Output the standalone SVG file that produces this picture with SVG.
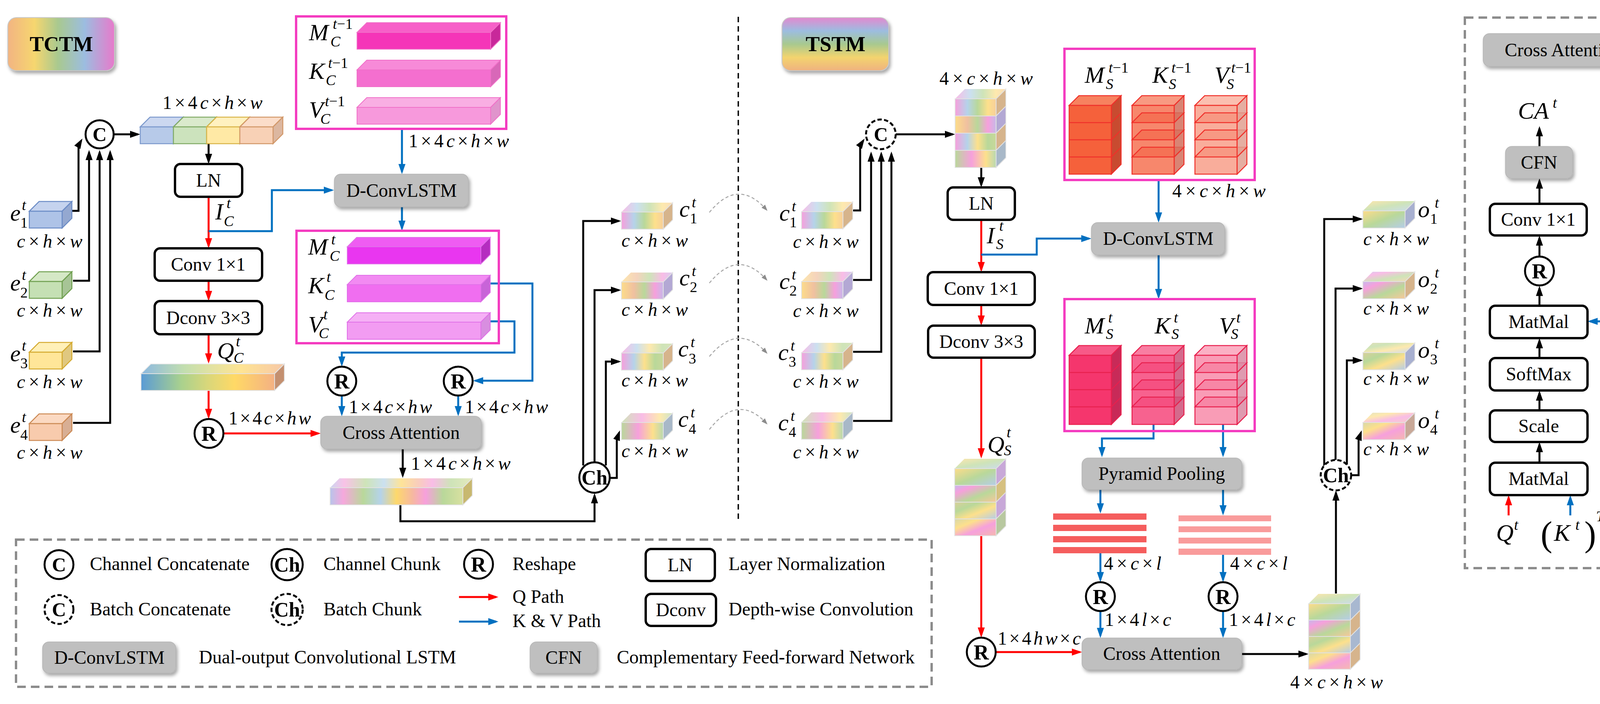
<svg xmlns="http://www.w3.org/2000/svg" width="4277" height="1803" viewBox="0 0 4277 1803">
<style>
text{font-family:"Liberation Serif","Times New Roman",serif;fill:#000}
.t{font-size:48px}
.tb{font-size:54px;font-weight:bold}
.ct{text-anchor:middle}
.v{font-size:60px;font-style:italic}
.s{font-size:38px;font-style:italic}
.su{font-size:38px}
.m{font-size:48px}
.i{font-style:italic}
.k{fill:none;stroke:#000;stroke-width:5}
.r{fill:none;stroke:#f00;stroke-width:5}
.b{fill:none;stroke:#0070c0;stroke-width:5}
.wb{fill:#fff;stroke:#000;stroke-width:6}
.gb{fill:#bfbfbf;stroke:#b3b3b3;stroke-width:1.5}
.cir{fill:#fff;stroke:#000;stroke-width:5}
.dc{fill:#fff;stroke:#000;stroke-width:5;stroke-dasharray:11 6}
.pf{fill:none;stroke:#f43cc0;stroke-width:6}
.cu{stroke:#e2e2e2;stroke-width:2}
.gd{fill:none;stroke:#8c8c8c;stroke-width:6;stroke-dasharray:22 13}
.cv{fill:none;stroke:#a6a6a6;stroke-width:2.5;stroke-dasharray:8 6}
.tp{opacity:.7}
</style>
<defs>
<filter id="sh" x="-10%" y="-15%" width="125%" height="150%"><feDropShadow dx="4" dy="6" stdDeviation="4" flood-color="#000" flood-opacity="0.35"/></filter>
<marker id="ak" viewBox="0 0 26 18" markerWidth="26" markerHeight="18" refX="20" refY="9" orient="auto" markerUnits="userSpaceOnUse"><path d="M0,0 L26,9 L0,18 z" fill="#000"/></marker>
<marker id="ar" viewBox="0 0 26 18" markerWidth="26" markerHeight="18" refX="20" refY="9" orient="auto" markerUnits="userSpaceOnUse"><path d="M0,0 L26,9 L0,18 z" fill="#f00"/></marker>
<marker id="ab" viewBox="0 0 26 18" markerWidth="26" markerHeight="18" refX="20" refY="9" orient="auto" markerUnits="userSpaceOnUse"><path d="M0,0 L26,9 L0,18 z" fill="#0070c0"/></marker>
<marker id="ag" viewBox="0 0 16 12" markerWidth="16" markerHeight="12" refX="12" refY="6" orient="auto" markerUnits="userSpaceOnUse"><path d="M0,0 L16,6 L0,12 z" fill="#8c8c8c"/></marker>
<linearGradient id="tctm" x1="0" y1="0" x2="1" y2="0"><stop offset="0" stop-color="#f2b482"/><stop offset=".25" stop-color="#f6d66f"/><stop offset=".47" stop-color="#a9c98f"/><stop offset=".72" stop-color="#9cbde0"/><stop offset="1" stop-color="#e77acb"/></linearGradient>
<linearGradient id="tstm" x1="0" y1="0" x2="0" y2="1"><stop offset="0" stop-color="#e389cf"/><stop offset=".25" stop-color="#9cbde0"/><stop offset=".5" stop-color="#a8c98f"/><stop offset=".75" stop-color="#f3d46e"/><stop offset="1" stop-color="#efb27f"/></linearGradient>
<linearGradient id="qbar" x1="0" y1="0" x2="1" y2="0"><stop offset="0" stop-color="#5b9bd5"/><stop offset=".3" stop-color="#a9d18e"/><stop offset=".5" stop-color="#d9d77a"/><stop offset=".7" stop-color="#ffd966"/><stop offset="1" stop-color="#f4b183"/></linearGradient>
<linearGradient id="gA"><stop offset="0" stop-color="#f6a0dc"/><stop offset=".3" stop-color="#b5d3ea"/><stop offset=".55" stop-color="#b9d89a"/><stop offset=".8" stop-color="#fde08c"/><stop offset="1" stop-color="#f7cf9a"/></linearGradient>
<linearGradient id="gB"><stop offset="0" stop-color="#fcdc8a"/><stop offset=".3" stop-color="#f0c0a0"/><stop offset=".55" stop-color="#b9d89a"/><stop offset=".8" stop-color="#f6a0dc"/><stop offset="1" stop-color="#c8b8e8"/></linearGradient>
<linearGradient id="gC"><stop offset="0" stop-color="#f6a0dc"/><stop offset=".3" stop-color="#b5d3ea"/><stop offset=".55" stop-color="#fde08c"/><stop offset=".8" stop-color="#b9d89a"/><stop offset="1" stop-color="#c8d89a"/></linearGradient>
<linearGradient id="gD"><stop offset="0" stop-color="#b9d89a"/><stop offset=".4" stop-color="#f6a0dc"/><stop offset=".75" stop-color="#fde08c"/><stop offset="1" stop-color="#b9d8b0"/></linearGradient>
<linearGradient id="gE"><stop offset="0" stop-color="#b8c4ea"/><stop offset=".1" stop-color="#f6a8dc"/><stop offset=".25" stop-color="#b9d89a"/><stop offset=".38" stop-color="#b5d3ea"/><stop offset=".5" stop-color="#fdd86c"/><stop offset=".62" stop-color="#f6b8a0"/><stop offset=".72" stop-color="#f6a0dc"/><stop offset=".85" stop-color="#b9d89a"/><stop offset="1" stop-color="#d8e0a0"/></linearGradient>
<linearGradient id="gF" x1="0" y1="0" x2="1" y2="1"><stop offset="0" stop-color="#fddc8a"/><stop offset=".5" stop-color="#b9d89a"/><stop offset="1" stop-color="#b5cde8"/></linearGradient>
<linearGradient id="gG" x1="0" y1="0" x2="1" y2="1"><stop offset="0" stop-color="#c8b8ea"/><stop offset=".25" stop-color="#f6a0dc"/><stop offset=".6" stop-color="#b9d89a"/><stop offset="1" stop-color="#f7c89a"/></linearGradient>
<linearGradient id="gH" x1="0" y1="0" x2="1" y2="1"><stop offset="0" stop-color="#d8d09a"/><stop offset=".3" stop-color="#b9d89a"/><stop offset=".6" stop-color="#fde08c"/><stop offset="1" stop-color="#b5cde8"/></linearGradient>
<linearGradient id="gI" x1="0" y1="0" x2="1" y2="1"><stop offset="0" stop-color="#d8d8a8"/><stop offset=".3" stop-color="#fde08c"/><stop offset=".6" stop-color="#f6a0dc"/><stop offset="1" stop-color="#f5b8b0"/></linearGradient>
</defs>
<rect x="0" y="0" width="4277" height="1803" fill="#fff"/>

<!-- divider -->
<line x1="1890" y1="43" x2="1890" y2="1337" stroke="#000" stroke-width="3.5" stroke-dasharray="14 10"/>

<g id="tctm-title">
<rect x="20" y="45" width="273" height="136" rx="22" fill="url(#tctm)" stroke="#c8c8c8" stroke-width="2" filter="url(#sh)"/>
<text class="tb ct" x="157" y="131">TCTM</text>
</g>
<g id="tstm-title">
<rect x="2002" y="45" width="273" height="136" rx="22" fill="url(#tstm)" stroke="#c8c8c8" stroke-width="2" filter="url(#sh)"/>
<text class="tb ct" x="2139" y="131">TSTM</text>
</g>

<!-- ================= connectors ================= -->
<g id="connectors">
<path class="k" d="M184,540 H201 V372 L208,360" marker-end="url(#ak)"/>
<path class="k" d="M187,719 H228 V390" marker-end="url(#ak)"/>
<path class="k" d="M187,900 H255 V390" marker-end="url(#ak)"/>
<path class="k" d="M187,1083 H282 V390" marker-end="url(#ak)"/>
<path class="k" d="M291,344 H353" marker-end="url(#ak)"/>
<path class="k" d="M534,368 V414" marker-end="url(#ak)"/>
<path class="r" d="M534,504 V630" marker-end="url(#ar)"/>
<path class="b" d="M534,592 H696 V487 H849" marker-end="url(#ab)"/>
<path class="r" d="M534,719 V765" marker-end="url(#ar)"/>
<path class="r" d="M534,856 V925" marker-end="url(#ar)"/>
<path class="r" d="M534,1000 V1067" marker-end="url(#ar)"/>
<path class="r" d="M572,1110 H815" marker-end="url(#ar)"/>
<path class="b" d="M1029,330 V440" marker-end="url(#ab)"/>
<path class="b" d="M1029,530 V585" marker-end="url(#ab)"/>
<path class="b" d="M1255,726 H1363 V975 H1217" marker-end="url(#ab)"/>
<path class="b" d="M1255,823 H1317 V903 H875 V933" marker-end="url(#ab)"/>
<path class="b" d="M875,1014 V1060" marker-end="url(#ab)"/>
<path class="b" d="M1173,1014 V1060" marker-end="url(#ab)"/>
<path class="k" d="M1031,1150 V1218" marker-end="url(#ak)"/>
<path class="k" d="M1025,1293 V1335 H1522 V1269" marker-end="url(#ak)"/>
<path class="k" d="M1493,1192 V566 H1584" marker-end="url(#ak)"/>
<path class="k" d="M1522,1183 V743 H1584" marker-end="url(#ak)"/>
<path class="k" d="M1551,1192 V926 H1584" marker-end="url(#ak)"/>
<path class="k" d="M1561,1224 H1579 V1125 L1585,1108" marker-end="url(#ak)"/>
<path class="cv" d="M1816,544 Q1889,454 1962,537" marker-end="url(#ag)"/>
<path class="cv" d="M1816,725 Q1889,635 1962,716" marker-end="url(#ag)"/>
<path class="cv" d="M1816,913 Q1889,825 1962,903" marker-end="url(#ag)"/>
<path class="cv" d="M1816,1100 Q1889,1006 1962,1084" marker-end="url(#ag)"/>
<path class="k" d="M2183,539 H2202 V372 L2210,360" marker-end="url(#ak)"/>
<path class="k" d="M2184,717 H2230 V394" marker-end="url(#ak)"/>
<path class="k" d="M2184,901 H2256 V394" marker-end="url(#ak)"/>
<path class="k" d="M2184,1078 H2282 V394" marker-end="url(#ak)"/>
<path class="k" d="M2293,344 H2439" marker-end="url(#ak)"/>
<path class="k" d="M2512,429 V474" marker-end="url(#ak)"/>
<path class="r" d="M2512,563 V691" marker-end="url(#ar)"/>
<path class="b" d="M2512,652 H2654 V611 H2788" marker-end="url(#ab)"/>
<path class="r" d="M2512,781 V828" marker-end="url(#ar)"/>
<path class="r" d="M2512,916 V1168" marker-end="url(#ar)"/>
<path class="r" d="M2512,1373 V1627" marker-end="url(#ar)"/>
<path class="r" d="M2549,1670 H2764" marker-end="url(#ar)"/>
<path class="b" d="M2966,461 V564" marker-end="url(#ab)"/>
<path class="b" d="M2966,653 V760" marker-end="url(#ab)"/>
<path class="b" d="M2953,1087 V1123 H2821 V1165" marker-end="url(#ab)"/>
<path class="b" d="M3131,1087 V1165" marker-end="url(#ab)"/>
<path class="b" d="M2817,1254 V1309" marker-end="url(#ab)"/>
<path class="b" d="M3131,1254 V1314" marker-end="url(#ab)"/>
<path class="b" d="M2817,1417 V1485" marker-end="url(#ab)"/>
<path class="b" d="M3131,1421 V1485" marker-end="url(#ab)"/>
<path class="b" d="M2817,1565 V1628" marker-end="url(#ab)"/>
<path class="b" d="M3131,1565 V1628" marker-end="url(#ab)"/>
<path class="k" d="M3179,1675 H3344" marker-end="url(#ak)"/>
<path class="k" d="M3420,1520 V1262" marker-end="url(#ak)"/>
<path class="k" d="M3390,1193 V561 H3483" marker-end="url(#ak)"/>
<path class="k" d="M3419,1178 V739 H3483" marker-end="url(#ak)"/>
<path class="k" d="M3448,1190 V923 H3483" marker-end="url(#ak)"/>
<path class="k" d="M3459,1217 H3478 V1125 L3484,1108" marker-end="url(#ak)"/>
<!-- right panel -->
<path class="k" d="M3941,375 V329" marker-end="url(#ak)"/>
<path class="k" d="M3941,522 V463" marker-end="url(#ak)"/>
<path class="k" d="M3941,656 V609" marker-end="url(#ak)"/>
<path class="k" d="M3941,783 V738" marker-end="url(#ak)"/>
<path class="k" d="M3941,917 V872" marker-end="url(#ak)"/>
<path class="k" d="M3941,1051 V1006" marker-end="url(#ak)"/>
<path class="k" d="M3941,1185 V1138" marker-end="url(#ak)"/>
<path class="r" d="M3862,1320 V1274" marker-end="url(#ar)"/>
<path class="b" d="M4020,1320 V1274" marker-end="url(#ab)"/>
<path class="b" d="M4192,1316 V823 H4070" marker-end="url(#ab)"/>
</g>

<!-- ================= TCTM nodes ================= -->
<g id="e1">
<polygon points="75,541 100,516 184,516 159,541" fill="#c5d3ee" stroke="#6b8cc6" stroke-width="2.5"/>
<polygon points="159,541 184,516 184,559 159,584" fill="#94a8d0" stroke="#6b8cc6" stroke-width="2.5"/>
<rect x="75" y="541" width="84" height="43" fill="#aec3e7" stroke="#6b8cc6" stroke-width="2.5"/>
<text class="v" x="26" y="565">e</text><text class="s" x="56" y="538">t</text><text class="su" x="52" y="583">1</text>
<text class="m" x="43" y="634" textLength="168" lengthAdjust="spacing"><tspan class="i">c</tspan>×<tspan class="i">h</tspan>×<tspan class="i">w</tspan></text>
</g>
<g id="e2">
<polygon points="75,721 100,696 184,696 159,721" fill="#d5e8c6" stroke="#70a050" stroke-width="2.5"/>
<polygon points="159,721 184,696 184,739 159,764" fill="#a7c496" stroke="#70a050" stroke-width="2.5"/>
<rect x="75" y="721" width="84" height="43" fill="#c5e0b4" stroke="#70a050" stroke-width="2.5"/>
<text class="v" x="26" y="744">e</text><text class="s" x="56" y="717">t</text><text class="su" x="52" y="762">2</text>
<text class="m" x="43" y="811" textLength="168" lengthAdjust="spacing"><tspan class="i">c</tspan>×<tspan class="i">h</tspan>×<tspan class="i">w</tspan></text>
</g>
<g id="e3">
<polygon points="75,902 100,877 184,877 159,902" fill="#fff0b8" stroke="#d4aa30" stroke-width="2.5"/>
<polygon points="159,902 184,877 184,920 159,945" fill="#e0c880" stroke="#d4aa30" stroke-width="2.5"/>
<rect x="75" y="902" width="84" height="43" fill="#ffe699" stroke="#d4aa30" stroke-width="2.5"/>
<text class="v" x="26" y="925">e</text><text class="s" x="56" y="898">t</text><text class="su" x="52" y="943">3</text>
<text class="m" x="43" y="994" textLength="168" lengthAdjust="spacing"><tspan class="i">c</tspan>×<tspan class="i">h</tspan>×<tspan class="i">w</tspan></text>
</g>
<g id="e4">
<polygon points="75,1085 100,1060 184,1060 159,1085" fill="#fbd9c2" stroke="#cc8a55" stroke-width="2.5"/>
<polygon points="159,1085 184,1060 184,1103 159,1128" fill="#d8ae94" stroke="#cc8a55" stroke-width="2.5"/>
<rect x="75" y="1085" width="84" height="43" fill="#f8cbad" stroke="#cc8a55" stroke-width="2.5"/>
<text class="v" x="26" y="1108">e</text><text class="s" x="56" y="1081">t</text><text class="su" x="52" y="1126">4</text>
<text class="m" x="43" y="1175" textLength="168" lengthAdjust="spacing"><tspan class="i">c</tspan>×<tspan class="i">h</tspan>×<tspan class="i">w</tspan></text>
</g>
<g id="concat-c">
<circle class="cir" cx="255" cy="344" r="36"/>
<text class="ct" x="255" y="361" style="font-size:50px;font-weight:bold">C</text>
</g>
<g id="ebar">
<g opacity=".88">
<polygon points="359,325 384,300 469,300 444,325" fill="#c5d3ee" stroke="#6b8cc6" stroke-width="2.5"/>
<polygon points="444,325 469,300 469,343 444,368" fill="#94a8d0" stroke="#6b8cc6" stroke-width="2.5"/>
<rect x="359" y="325" width="85" height="43" fill="#aec3e7" stroke="#6b8cc6" stroke-width="2.5"/>
<polygon points="444,325 469,300 554,300 529,325" fill="#d5e8c6" stroke="#70a050" stroke-width="2.5"/>
<polygon points="529,325 554,300 554,343 529,368" fill="#a7c496" stroke="#70a050" stroke-width="2.5"/>
<rect x="444" y="325" width="85" height="43" fill="#c5e0b4" stroke="#70a050" stroke-width="2.5"/>
<polygon points="529,325 554,300 639,300 614,325" fill="#fff0b8" stroke="#d4aa30" stroke-width="2.5"/>
<polygon points="614,325 639,300 639,343 614,368" fill="#e0c880" stroke="#d4aa30" stroke-width="2.5"/>
<rect x="529" y="325" width="85" height="43" fill="#ffe699" stroke="#d4aa30" stroke-width="2.5"/>
<polygon points="614,325 639,300 724,300 699,325" fill="#fbd9c2" stroke="#cc8a55" stroke-width="2.5"/>
<polygon points="699,325 724,300 724,343 699,368" fill="#d8ae94" stroke="#cc8a55" stroke-width="2.5"/>
<rect x="614" y="325" width="85" height="43" fill="#f8cbad" stroke="#cc8a55" stroke-width="2.5"/>
</g>
<text class="m" x="416" y="279" textLength="256" lengthAdjust="spacing">1×4<tspan class="i">c</tspan>×<tspan class="i">h</tspan>×<tspan class="i">w</tspan></text>
</g>
<g id="ln-c">
<rect class="wb" x="448" y="420" width="172" height="84" rx="14"/>
<text class="t ct" x="534" y="478">LN</text>
<text class="v" x="551" y="562">I</text><text class="s" x="580" y="533">t</text><text class="s" x="573" y="579">C</text>
</g>
<g id="conv-c">
<rect class="wb" x="396" y="636" width="275" height="83" rx="14"/>
<text class="t ct" x="533" y="693">Conv 1×1</text>
</g>
<g id="dconv-c">
<rect class="wb" x="396" y="771" width="275" height="85" rx="14"/>
<text class="t ct" x="533" y="830">Dconv 3×3</text>
</g>
<g id="q-c">
<polygon points="361,957 386,932 728,932 703,957" fill="url(#qbar)" opacity=".7" stroke="#e2e2e2" stroke-width="2"/>
<polygon points="703,957 728,932 728,975 703,1000" fill="#c49070" stroke="#e2e2e2" stroke-width="2"/>
<rect x="361" y="957" width="342" height="43" fill="url(#qbar)" stroke="#e2e2e2" stroke-width="2"/>
<text class="v" x="556" y="918">Q</text><text class="s" x="604" y="887">t</text><text class="s" x="598" y="929">C</text>
</g>
<g id="reshape-q-c">
<circle class="cir" cx="535" cy="1110" r="37"/>
<text class="ct" x="535" y="1129" style="font-size:54px;font-weight:bold">R</text>
<text class="m" x="585" y="1087" textLength="211" lengthAdjust="spacing">1×4<tspan class="i">c</tspan>×<tspan class="i">hw</tspan></text>
</g>
<g id="mem-c-prev">
<rect class="pf" x="758" y="42" width="538" height="288"/>
<polygon points="914,83 939,58 1281,58 1256,83" fill="#f75fc8" stroke="#f070c8" stroke-width="2"/>
<polygon points="1256,83 1281,58 1281,101 1256,126" fill="#c8289a" stroke="#f070c8" stroke-width="2"/>
<rect x="914" y="83" width="342" height="43" fill="#f535b8" stroke="#f070c8" stroke-width="2"/>
<polygon points="914,179 939,154 1281,154 1256,179" fill="#f78ad8" stroke="#f070c8" stroke-width="2"/>
<polygon points="1256,179 1281,154 1281,197 1256,222" fill="#d868b8" stroke="#f070c8" stroke-width="2"/>
<rect x="914" y="179" width="342" height="43" fill="#f46fcf" stroke="#f070c8" stroke-width="2"/>
<polygon points="914,275 939,250 1281,250 1256,275" fill="#f9aee3" stroke="#f070c8" stroke-width="2"/>
<polygon points="1256,275 1281,250 1281,293 1256,318" fill="#e094cc" stroke="#f070c8" stroke-width="2"/>
<rect x="914" y="275" width="342" height="43" fill="#f799dc" stroke="#f070c8" stroke-width="2"/>
<text class="v" x="791" y="103">M</text><text class="s" x="852" y="74">t<tspan style="font-style:normal">−1</tspan></text><text class="s" x="846" y="119">C</text>
<text class="v" x="791" y="202">K</text><text class="s" x="840" y="174">t<tspan style="font-style:normal">−1</tspan></text><text class="s" x="834" y="218">C</text>
<text class="v" x="791" y="301">V</text><text class="s" x="832" y="272">t<tspan style="font-style:normal">−1</tspan></text><text class="s" x="820" y="317">C</text>
<text class="m" x="1046" y="377" textLength="257" lengthAdjust="spacing">1×4<tspan class="i">c</tspan>×<tspan class="i">h</tspan>×<tspan class="i">w</tspan></text>
</g>
<g id="dconvlstm-c">
<rect class="gb" x="856" y="446" width="343" height="84" rx="16" filter="url(#sh)"/>
<text class="t ct" x="1028" y="504">D-ConvLSTM</text>
</g>
<g id="mem-c">
<rect class="pf" x="759" y="591" width="518" height="288"/>
<polygon points="889,632 913,608 1255,608 1231,632" fill="#ef5cf2" stroke="#e070e8" stroke-width="2"/>
<polygon points="1231,632 1255,608 1255,652 1231,676" fill="#b52cc0" stroke="#e070e8" stroke-width="2"/>
<rect x="889" y="632" width="342" height="44" fill="#e936f0" stroke="#e070e8" stroke-width="2"/>
<polygon points="889,729 913,705 1255,705 1231,729" fill="#f28af2" stroke="#e070e8" stroke-width="2"/>
<polygon points="1231,729 1255,705 1255,749 1231,773" fill="#c864d8" stroke="#e070e8" stroke-width="2"/>
<rect x="889" y="729" width="342" height="44" fill="#f06ef0" stroke="#e070e8" stroke-width="2"/>
<polygon points="889,825 913,801 1255,801 1231,825" fill="#f5b0f5" stroke="#e070e8" stroke-width="2"/>
<polygon points="1231,825 1255,801 1255,845 1231,869" fill="#d88ee0" stroke="#e070e8" stroke-width="2"/>
<rect x="889" y="825" width="342" height="44" fill="#f29cf2" stroke="#e070e8" stroke-width="2"/>
<text class="v" x="789" y="652">M</text><text class="s" x="848" y="626">t</text><text class="s" x="844" y="668">C</text>
<text class="v" x="789" y="751">K</text><text class="s" x="836" y="722">t</text><text class="s" x="831" y="768">C</text>
<text class="v" x="789" y="851">V</text><text class="s" x="828" y="818">t</text><text class="s" x="816" y="866">C</text>
</g>
<g id="reshape-v-c">
<circle class="cir" cx="875" cy="976" r="37"/>
<text class="ct" x="875" y="995" style="font-size:54px;font-weight:bold">R</text>
<text class="m" x="893" y="1058" textLength="213" lengthAdjust="spacing">1×4<tspan class="i">c</tspan>×<tspan class="i">hw</tspan></text>
</g>
<g id="reshape-k-c">
<circle class="cir" cx="1173" cy="976" r="37"/>
<text class="ct" x="1173" y="995" style="font-size:54px;font-weight:bold">R</text>
<text class="m" x="1190" y="1058" textLength="213" lengthAdjust="spacing">1×4<tspan class="i">c</tspan>×<tspan class="i">hw</tspan></text>
</g>
<g id="cross-attn-c">
<rect class="gb" x="821" y="1066" width="411" height="84" rx="16" filter="url(#sh)"/>
<text class="t ct" x="1027" y="1124">Cross Attention</text>
</g>
<g id="ca-out-c">
<polygon points="845,1249 869,1225 1209,1225 1185,1249" fill="url(#gE)" class="tp"/>
<polygon points="1185,1249 1209,1225 1209,1269 1185,1293" fill="#c8b870" stroke="#e2e2e2" stroke-width="2"/>
<rect x="845" y="1249" width="340" height="44" fill="url(#gE)" class="cu"/>
<text class="m" x="1052" y="1203" textLength="255" lengthAdjust="spacing">1×4<tspan class="i">c</tspan>×<tspan class="i">h</tspan>×<tspan class="i">w</tspan></text>
</g>
<g id="chunk-c">
<circle class="cir" cx="1522" cy="1223" r="39"/>
<text class="ct" x="1522" y="1241" style="font-size:52px;font-weight:bold">Ch</text>
</g>

<!-- c cubes left -->
<g id="c1-left">
<polygon points="1591,543 1615,519 1722,519 1698,543" fill="url(#gA)" class="tp"/>
<polygon points="1698,543 1722,519 1722,563 1698,587" fill="#d6b48c" class="cu"/>
<rect x="1591" y="543" width="107" height="44" fill="url(#gA)" class="cu"/>
<text class="v" x="1739" y="555">c</text><text class="s" x="1771" y="531">t</text><text class="su" x="1766" y="572">1</text>
<text class="m" x="1591" y="632" textLength="170" lengthAdjust="spacing"><tspan class="i">c</tspan>×<tspan class="i">h</tspan>×<tspan class="i">w</tspan></text>
</g>
<g id="c2-left">
<polygon points="1591,722 1615,698 1722,698 1698,722" fill="url(#gB)" class="tp"/>
<polygon points="1698,722 1722,698 1722,742 1698,766" fill="#b3a8d4" class="cu"/>
<rect x="1591" y="722" width="107" height="44" fill="url(#gB)" class="cu"/>
<text class="v" x="1739" y="731">c</text><text class="s" x="1771" y="707">t</text><text class="su" x="1766" y="748">2</text>
<text class="m" x="1591" y="809" textLength="170" lengthAdjust="spacing"><tspan class="i">c</tspan>×<tspan class="i">h</tspan>×<tspan class="i">w</tspan></text>
</g>
<g id="c3-left">
<polygon points="1591,904 1615,880 1722,880 1698,904" fill="url(#gC)" class="tp"/>
<polygon points="1698,904 1722,880 1722,924 1698,948" fill="#d6b48c" class="cu"/>
<rect x="1591" y="904" width="107" height="44" fill="url(#gC)" class="cu"/>
<text class="v" x="1736" y="913">c</text><text class="s" x="1768" y="889">t</text><text class="su" x="1763" y="931">3</text>
<text class="m" x="1591" y="990" textLength="170" lengthAdjust="spacing"><tspan class="i">c</tspan>×<tspan class="i">h</tspan>×<tspan class="i">w</tspan></text>
</g>
<g id="c4-left">
<polygon points="1591,1082 1615,1058 1722,1058 1698,1082" fill="url(#gD)" class="tp"/>
<polygon points="1698,1082 1722,1058 1722,1102 1698,1126" fill="#a8b8c8" class="cu"/>
<rect x="1591" y="1082" width="107" height="44" fill="url(#gD)" class="cu"/>
<text class="v" x="1736" y="1093">c</text><text class="s" x="1768" y="1069">t</text><text class="su" x="1763" y="1111">4</text>
<text class="m" x="1591" y="1171" textLength="170" lengthAdjust="spacing"><tspan class="i">c</tspan>×<tspan class="i">h</tspan>×<tspan class="i">w</tspan></text>
</g>

<!-- c cubes right -->
<g id="c1-right">
<polygon points="2052,542 2077,517 2183,517 2158,542" fill="url(#gA)" class="tp"/>
<polygon points="2158,542 2183,517 2183,561 2158,586" fill="#d6b48c" class="cu"/>
<rect x="2052" y="542" width="106" height="44" fill="url(#gA)" class="cu"/>
<text class="v" x="1995" y="565">c</text><text class="s" x="2027" y="541">t</text><text class="su" x="2021" y="582">1</text>
<text class="m" x="2030" y="635" textLength="168" lengthAdjust="spacing"><tspan class="i">c</tspan>×<tspan class="i">h</tspan>×<tspan class="i">w</tspan></text>
</g>
<g id="c2-right">
<polygon points="2052,721 2077,696 2183,696 2158,721" fill="url(#gB)" class="tp"/>
<polygon points="2158,721 2183,696 2183,740 2158,765" fill="#b3a8d4" class="cu"/>
<rect x="2052" y="721" width="106" height="44" fill="url(#gB)" class="cu"/>
<text class="v" x="1995" y="740">c</text><text class="s" x="2027" y="716">t</text><text class="su" x="2021" y="757">2</text>
<text class="m" x="2030" y="812" textLength="168" lengthAdjust="spacing"><tspan class="i">c</tspan>×<tspan class="i">h</tspan>×<tspan class="i">w</tspan></text>
</g>
<g id="c3-right">
<polygon points="2052,903 2077,878 2183,878 2158,903" fill="url(#gC)" class="tp"/>
<polygon points="2158,903 2183,878 2183,922 2158,947" fill="#d6b48c" class="cu"/>
<rect x="2052" y="903" width="106" height="44" fill="url(#gC)" class="cu"/>
<text class="v" x="1992" y="922">c</text><text class="s" x="2024" y="898">t</text><text class="su" x="2019" y="939">3</text>
<text class="m" x="2030" y="993" textLength="168" lengthAdjust="spacing"><tspan class="i">c</tspan>×<tspan class="i">h</tspan>×<tspan class="i">w</tspan></text>
</g>
<g id="c4-right">
<polygon points="2052,1081 2077,1056 2183,1056 2158,1081" fill="url(#gD)" class="tp"/>
<polygon points="2158,1081 2183,1056 2183,1100 2158,1125" fill="#a8b8c8" class="cu"/>
<rect x="2052" y="1081" width="106" height="44" fill="url(#gD)" class="cu"/>
<text class="v" x="1992" y="1102">c</text><text class="s" x="2024" y="1078">t</text><text class="su" x="2019" y="1119">4</text>
<text class="m" x="2030" y="1174" textLength="168" lengthAdjust="spacing"><tspan class="i">c</tspan>×<tspan class="i">h</tspan>×<tspan class="i">w</tspan></text>
</g>

<!-- ================= TSTM nodes ================= -->
<g id="batch-concat">
<circle class="dc" cx="2255" cy="344" r="38"/>
<text class="ct" x="2255" y="361" style="font-size:50px;font-weight:bold">C</text>
</g>
<g id="batch-stack">
<polygon points="2445,253 2470,228 2575,228 2550,253" fill="url(#gA)" class="tp"/>
<rect x="2445" y="253" width="105" height="44" fill="url(#gA)" class="cu"/>
<rect x="2445" y="297" width="105" height="44" fill="url(#gB)" class="cu"/>
<rect x="2445" y="341" width="105" height="44" fill="url(#gC)" class="cu"/>
<rect x="2445" y="385" width="105" height="44" fill="url(#gD)" class="cu"/>
<polygon points="2550,253 2575,228 2575,272 2550,297" fill="#d6b48c" class="cu"/>
<polygon points="2550,297 2575,272 2575,316 2550,341" fill="#b3a8d4" class="cu"/>
<polygon points="2550,341 2575,316 2575,360 2550,385" fill="#d6b48c" class="cu"/>
<polygon points="2550,385 2575,360 2575,404 2550,429" fill="#a8b8c8" class="cu"/>
<text class="m" x="2405" y="217" textLength="239" lengthAdjust="spacing">4×<tspan class="i">c</tspan>×<tspan class="i">h</tspan>×<tspan class="i">w</tspan></text>
</g>
<g id="ln-s">
<rect class="wb" x="2426" y="480" width="172" height="83" rx="14"/>
<text class="t ct" x="2512" y="537">LN</text>
<text class="v" x="2526" y="623">I</text><text class="s" x="2558" y="591">t</text><text class="s" x="2550" y="638">S</text>
</g>
<g id="conv-s">
<rect class="wb" x="2375" y="697" width="274" height="84" rx="14"/>
<text class="t ct" x="2512" y="755">Conv 1×1</text>
</g>
<g id="dconv-s">
<rect class="wb" x="2376" y="834" width="273" height="82" rx="14"/>
<text class="t ct" x="2512" y="891">Dconv 3×3</text>
</g>
<g id="q-s">
<polygon points="2444,1200 2469,1175 2575,1175 2550,1200" fill="url(#gF)" class="tp"/>
<rect x="2444" y="1200" width="106" height="43" fill="url(#gF)" class="cu"/>
<rect x="2444" y="1243" width="106" height="43" fill="url(#gG)" class="cu"/>
<rect x="2444" y="1286" width="106" height="43" fill="url(#gH)" class="cu"/>
<rect x="2444" y="1329" width="106" height="43" fill="url(#gI)" class="cu"/>
<polygon points="2550,1200 2575,1175 2575,1218 2550,1243" fill="#c8a8d8" class="cu"/>
<polygon points="2550,1243 2575,1218 2575,1261 2550,1286" fill="#d6c080" class="cu"/>
<polygon points="2550,1286 2575,1261 2575,1304 2550,1329" fill="#c8a8d8" class="cu"/>
<polygon points="2550,1329 2575,1304 2575,1347 2550,1372" fill="#b8c8a0" class="cu"/>
<text class="v" x="2528" y="1158">Q</text><text class="s" x="2577" y="1120">t</text><text class="s" x="2570" y="1166">S</text>
</g>
<g id="reshape-q-s">
<circle class="cir" cx="2512" cy="1670" r="37"/>
<text class="ct" x="2512" y="1689" style="font-size:54px;font-weight:bold">R</text>
<text class="m" x="2554" y="1651" textLength="213" lengthAdjust="spacing">1×4<tspan class="i">hw</tspan>×<tspan class="i">c</tspan></text>
</g>
<g id="mem-s-prev">
<rect class="pf" x="2725" y="125" width="487" height="336"/>
<g stroke="#f0302a" stroke-width="2.5">
<polygon points="2737,270 2762,245 2870,245 2845,270" fill="#f7825f"/>
<polygon points="2845,270 2870,245 2870,421 2845,446" fill="#c84b30"/>
<rect x="2737" y="270" width="108" height="176" fill="#f5613b"/>
<path d="M2737,314 H2845 L2870,289 M2737,358 H2845 L2870,333 M2737,402 H2845 L2870,377" fill="none"/>
<polygon points="2898,270 2923,245 3031,245 3006,270" fill="#f89a82"/>
<rect x="2898" y="270" width="108" height="176" fill="#f7876c"/>
<polygon points="2898,314 2923,289 3031,289 3006,314" fill="#f46a4c" fill-opacity=".7"/>
<polygon points="2898,358 2923,333 3031,333 3006,358" fill="#f46a4c" fill-opacity=".7"/>
<polygon points="2898,402 2923,377 3031,377 3006,402" fill="#f46a4c" fill-opacity=".7"/>
<polygon points="3006,270 3031,245 3031,421 3006,446" fill="#d26f5c" fill-opacity=".85"/>
<path d="M3006,314 L3031,289 M3006,358 L3031,333 M3006,402 L3031,377" fill="none"/>
<polygon points="3059,270 3084,245 3192,245 3167,270" fill="#fbbfb0"/>
<rect x="3059" y="270" width="108" height="176" fill="#f9ad9b"/>
<polygon points="3059,314 3084,289 3192,289 3167,314" fill="#f7907a" fill-opacity=".7"/>
<polygon points="3059,358 3084,333 3192,333 3167,358" fill="#f7907a" fill-opacity=".7"/>
<polygon points="3059,402 3084,377 3192,377 3167,402" fill="#f7907a" fill-opacity=".7"/>
<polygon points="3167,270 3192,245 3192,421 3167,446" fill="#e0a091" fill-opacity=".85"/>
<path d="M3167,314 L3192,289 M3167,358 L3192,333 M3167,402 L3192,377" fill="none"/>
</g>
<text class="v" x="2777" y="212">M</text><text class="s" x="2838" y="186">t<tspan style="font-style:normal">−1</tspan></text><text class="s" x="2831" y="228">S</text>
<text class="v" x="2950" y="212">K</text><text class="s" x="2999" y="186">t<tspan style="font-style:normal">−1</tspan></text><text class="s" x="2992" y="228">S</text>
<text class="v" x="3109" y="212">V</text><text class="s" x="3152" y="186">t<tspan style="font-style:normal">−1</tspan></text><text class="s" x="3140" y="228">S</text>
<text class="m" x="3001" y="505" textLength="239" lengthAdjust="spacing">4×<tspan class="i">c</tspan>×<tspan class="i">h</tspan>×<tspan class="i">w</tspan></text>
</g>
<g id="dconvlstm-s">
<rect class="gb" x="2794" y="570" width="341" height="83" rx="16" filter="url(#sh)"/>
<text class="t ct" x="2965" y="627">D-ConvLSTM</text>
</g>
<g id="mem-s">
<rect class="pf" x="2725" y="766" width="487" height="338"/>
<g stroke="#e8204e" stroke-width="2.5">
<polygon points="2737,910 2762,885 2870,885 2845,910" fill="#f75a88"/>
<polygon points="2845,910 2870,885 2870,1062 2845,1087" fill="#c82a58"/>
<rect x="2737" y="910" width="108" height="177" fill="#f5366d"/>
<path d="M2737,954 H2845 L2870,929 M2737,998 H2845 L2870,973 M2737,1042 H2845 L2870,1017" fill="none"/>
<polygon points="2898,910 2923,885 3031,885 3006,910" fill="#f87ea2"/>
<rect x="2898" y="910" width="108" height="177" fill="#f7628f"/>
<polygon points="2898,954 2923,929 3031,929 3006,954" fill="#f44a7c" fill-opacity=".7"/>
<polygon points="2898,998 2923,973 3031,973 3006,998" fill="#f44a7c" fill-opacity=".7"/>
<polygon points="2898,1042 2923,1017 3031,1017 3006,1042" fill="#f44a7c" fill-opacity=".7"/>
<polygon points="3006,910 3031,885 3031,1062 3006,1087" fill="#cd5078" fill-opacity=".85"/>
<path d="M3006,954 L3031,929 M3006,998 L3031,973 M3006,1042 L3031,1017" fill="none"/>
<polygon points="3059,910 3084,885 3192,885 3167,910" fill="#fbb0c4"/>
<rect x="3059" y="910" width="108" height="177" fill="#f99cb6"/>
<polygon points="3059,954 3084,929 3192,929 3167,954" fill="#f77fa0" fill-opacity=".7"/>
<polygon points="3059,998 3084,973 3192,973 3167,998" fill="#f77fa0" fill-opacity=".7"/>
<polygon points="3059,1042 3084,1017 3192,1017 3167,1042" fill="#f77fa0" fill-opacity=".7"/>
<polygon points="3167,910 3192,885 3192,1062 3167,1087" fill="#d98aa2" fill-opacity=".85"/>
<path d="M3167,954 L3192,929 M3167,998 L3192,973 M3167,1042 L3192,1017" fill="none"/>
</g>
<text class="v" x="2777" y="854">M</text><text class="s" x="2837" y="826">t</text><text class="s" x="2831" y="868">S</text>
<text class="v" x="2956" y="854">K</text><text class="s" x="3005" y="826">t</text><text class="s" x="2999" y="868">S</text>
<text class="v" x="3121" y="854">V</text><text class="s" x="3165" y="826">t</text><text class="s" x="3151" y="868">S</text>
</g>
<g id="pyramid-pooling">
<rect class="gb" x="2770" y="1173" width="409" height="81" rx="16" filter="url(#sh)"/>
<text class="t ct" x="2974" y="1229">Pyramid Pooling</text>
</g>
<g id="pooled-k">
<rect x="2696" y="1315" width="239" height="16" fill="#f55d5d"/>
<rect x="2696" y="1344" width="239" height="16" fill="#f55d5d"/>
<rect x="2696" y="1373" width="239" height="16" fill="#f55d5d"/>
<rect x="2696" y="1401" width="239" height="16" fill="#f55d5d"/>
<text class="m" x="2826" y="1459" textLength="147" lengthAdjust="spacing">4×<tspan class="i">c</tspan>×<tspan class="i">l</tspan></text>
</g>
<g id="pooled-v">
<rect x="3017" y="1320" width="237" height="15" fill="#f99b9b"/>
<rect x="3017" y="1348" width="237" height="15" fill="#f99b9b"/>
<rect x="3017" y="1377" width="237" height="15" fill="#f99b9b"/>
<rect x="3017" y="1405" width="237" height="16" fill="#f99b9b"/>
<text class="m" x="3149" y="1459" textLength="147" lengthAdjust="spacing">4×<tspan class="i">c</tspan>×<tspan class="i">l</tspan></text>
</g>
<g id="reshape-k-s">
<circle class="cir" cx="2817" cy="1528" r="37"/>
<text class="ct" x="2817" y="1547" style="font-size:54px;font-weight:bold">R</text>
<text class="m" x="2828" y="1603" textLength="170" lengthAdjust="spacing">1×4<tspan class="i">l</tspan>×<tspan class="i">c</tspan></text>
</g>
<g id="reshape-v-s">
<circle class="cir" cx="3131" cy="1528" r="37"/>
<text class="ct" x="3131" y="1547" style="font-size:54px;font-weight:bold">R</text>
<text class="m" x="3146" y="1603" textLength="170" lengthAdjust="spacing">1×4<tspan class="i">l</tspan>×<tspan class="i">c</tspan></text>
</g>
<g id="cross-attn-s">
<rect class="gb" x="2770" y="1634" width="409" height="81" rx="16" filter="url(#sh)"/>
<text class="t ct" x="2974" y="1690">Cross Attention</text>
</g>
<g id="out-stack">
<polygon points="3350,1546 3375,1521 3482,1521 3457,1546" fill="url(#gF)" class="tp"/>
<rect x="3350" y="1546" width="107" height="42" fill="url(#gF)" class="cu"/>
<rect x="3350" y="1588" width="107" height="42" fill="url(#gG)" class="cu"/>
<rect x="3350" y="1630" width="107" height="42" fill="url(#gH)" class="cu"/>
<rect x="3350" y="1672" width="107" height="42" fill="url(#gI)" class="cu"/>
<polygon points="3457,1546 3482,1521 3482,1563 3457,1588" fill="#a8b8d0" class="cu"/>
<polygon points="3457,1588 3482,1563 3482,1605 3457,1630" fill="#d6b48c" class="cu"/>
<polygon points="3457,1630 3482,1605 3482,1647 3457,1672" fill="#a8b8d0" class="cu"/>
<polygon points="3457,1672 3482,1647 3482,1689 3457,1714" fill="#d6b48c" class="cu"/>
<text class="m" x="3303" y="1763" textLength="237" lengthAdjust="spacing">4×<tspan class="i">c</tspan>×<tspan class="i">h</tspan>×<tspan class="i">w</tspan></text>
</g>
<g id="batch-chunk">
<circle class="dc" cx="3420" cy="1217" r="39"/>
<text class="ct" x="3420" y="1235" style="font-size:52px;font-weight:bold">Ch</text>
</g>
<g id="o1">
<polygon points="3489,540 3514,515 3622,515 3597,540" fill="url(#gF)" class="tp"/>
<polygon points="3597,540 3622,515 3622,559 3597,584" fill="#a8b0d0" class="cu"/>
<rect x="3489" y="540" width="108" height="44" fill="url(#gF)" class="cu"/>
<text class="v" x="3630" y="556">o</text><text class="s" x="3673" y="532">t</text><text class="su" x="3661" y="573">1</text>
<text class="m" x="3490" y="628" textLength="168" lengthAdjust="spacing"><tspan class="i">c</tspan>×<tspan class="i">h</tspan>×<tspan class="i">w</tspan></text>
</g>
<g id="o2">
<polygon points="3489,721 3514,696 3622,696 3597,721" fill="url(#gG)" class="tp"/>
<polygon points="3597,721 3622,696 3622,740 3597,765" fill="#d6b48c" class="cu"/>
<rect x="3489" y="721" width="108" height="44" fill="url(#gG)" class="cu"/>
<text class="v" x="3630" y="735">o</text><text class="s" x="3673" y="711">t</text><text class="su" x="3661" y="752">2</text>
<text class="m" x="3490" y="806" textLength="168" lengthAdjust="spacing"><tspan class="i">c</tspan>×<tspan class="i">h</tspan>×<tspan class="i">w</tspan></text>
</g>
<g id="o3">
<polygon points="3489,903 3514,878 3622,878 3597,903" fill="url(#gH)" class="tp"/>
<polygon points="3597,903 3622,878 3622,922 3597,947" fill="#a8b0d0" class="cu"/>
<rect x="3489" y="903" width="108" height="44" fill="url(#gH)" class="cu"/>
<text class="v" x="3630" y="916">o</text><text class="s" x="3673" y="892">t</text><text class="su" x="3661" y="933">3</text>
<text class="m" x="3490" y="986" textLength="168" lengthAdjust="spacing"><tspan class="i">c</tspan>×<tspan class="i">h</tspan>×<tspan class="i">w</tspan></text>
</g>
<g id="o4">
<polygon points="3489,1082 3514,1057 3622,1057 3597,1082" fill="url(#gI)" class="tp"/>
<polygon points="3597,1082 3622,1057 3622,1101 3597,1126" fill="#c8a898" class="cu"/>
<rect x="3489" y="1082" width="108" height="44" fill="url(#gI)" class="cu"/>
<text class="v" x="3630" y="1096">o</text><text class="s" x="3673" y="1072">t</text><text class="su" x="3661" y="1113">4</text>
<text class="m" x="3490" y="1166" textLength="168" lengthAdjust="spacing"><tspan class="i">c</tspan>×<tspan class="i">h</tspan>×<tspan class="i">w</tspan></text>
</g>

<!-- ================= Cross attention detail panel ================= -->
<g id="ca-panel">
<rect class="gd" x="3750" y="45" width="507" height="1410"/>
</g>
<g id="ca-title">
<rect class="gb" x="3797" y="86" width="410" height="84" rx="16" filter="url(#sh)"/>
<text class="t ct" x="4002" y="144">Cross Attention</text>
</g>
<g id="ca-out">
<text class="v" x="3886" y="304" style="font-size:62px">CA</text><text class="s" x="3975" y="276">t</text>
</g>
<g id="cfn">
<rect class="gb" x="3854" y="375" width="172" height="82" rx="16" filter="url(#sh)"/>
<text class="t ct" x="3940" y="432">CFN</text>
</g>
<g id="conv-ca">
<rect class="wb" x="3814" y="522" width="248" height="81" rx="14"/>
<text class="t ct" x="3938" y="578">Conv 1×1</text>
</g>
<g id="reshape-ca">
<circle class="cir" cx="3941" cy="694" r="37"/>
<text class="ct" x="3941" y="713" style="font-size:54px;font-weight:bold">R</text>
</g>
<g id="matmal-2">
<rect class="wb" x="3814" y="783" width="250" height="83" rx="14"/>
<text class="t ct" x="3939" y="840">MatMal</text>
</g>
<g id="softmax">
<rect class="wb" x="3814" y="917" width="250" height="83" rx="14"/>
<text class="t ct" x="3939" y="974">SoftMax</text>
</g>
<g id="scale">
<rect class="wb" x="3814" y="1051" width="250" height="81" rx="14"/>
<text class="t ct" x="3939" y="1107">Scale</text>
</g>
<g id="matmal-1">
<rect class="wb" x="3814" y="1185" width="250" height="83" rx="14"/>
<text class="t ct" x="3939" y="1242">MatMal</text>
</g>
<g id="ca-inputs">
<text class="v" x="3830" y="1385" style="font-size:62px">Q</text><text class="s" x="3876" y="1357">t</text>
<text x="3944" y="1398" style="font-size:90px">(</text>
<text class="v" x="3978" y="1385" style="font-size:62px">K</text><text class="s" x="4033" y="1357">t</text>
<text x="4056" y="1398" style="font-size:90px">)</text>
<text class="s" x="4086" y="1335">T</text>
<text class="v" x="4162" y="1385" style="font-size:62px">V</text><text class="s" x="4209" y="1357">t</text>
</g>

<!-- ================= Legend ================= -->
<g id="legend">
<rect class="gd" x="41" y="1382" width="2344" height="377"/>
<circle class="cir" cx="151" cy="1446" r="37"/>
<text class="ct" x="151" y="1463" style="font-size:50px;font-weight:bold">C</text>
<text class="t" x="230" y="1460">Channel Concatenate</text>
<circle class="cir" cx="735" cy="1446" r="40"/>
<text class="ct" x="735" y="1464" style="font-size:52px;font-weight:bold">Ch</text>
<text class="t" x="828" y="1460">Channel Chunk</text>
<circle class="cir" cx="1225" cy="1445" r="37"/>
<text class="ct" x="1225" y="1464" style="font-size:54px;font-weight:bold">R</text>
<text class="t" x="1312" y="1460">Reshape</text>
<rect class="wb" x="1653" y="1406" width="177" height="82" rx="14"/>
<text class="t ct" x="1741" y="1463">LN</text>
<text class="t" x="1865" y="1460">Layer Normalization</text>
<circle class="dc" cx="151" cy="1561" r="37"/>
<text class="ct" x="151" y="1578" style="font-size:50px;font-weight:bold">C</text>
<text class="t" x="230" y="1576">Batch Concatenate</text>
<circle class="dc" cx="735" cy="1561" r="40"/>
<text class="ct" x="735" y="1579" style="font-size:52px;font-weight:bold">Ch</text>
<text class="t" x="828" y="1576">Batch Chunk</text>
<path class="r" d="M1175,1529 H1270" marker-end="url(#ar)"/>
<text class="t" x="1312" y="1544">Q Path</text>
<path class="b" d="M1175,1592 H1270" marker-end="url(#ab)"/>
<text class="t" x="1312" y="1606">K &amp; V Path</text>
<rect class="wb" x="1653" y="1521" width="180" height="82" rx="14"/>
<text class="t ct" x="1743" y="1578">Dconv</text>
<text class="t" x="1865" y="1576">Depth-wise Convolution</text>
<rect class="gb" x="109" y="1644" width="341" height="80" rx="16" filter="url(#sh)"/>
<text class="t ct" x="280" y="1700">D-ConvLSTM</text>
<text class="t" x="509" y="1699">Dual-output Convolutional LSTM</text>
<rect class="gb" x="1357" y="1644" width="172" height="80" rx="16" filter="url(#sh)"/>
<text class="t ct" x="1443" y="1700">CFN</text>
<text class="t" x="1579" y="1699">Complementary Feed-forward Network</text>
</g>
</svg>
